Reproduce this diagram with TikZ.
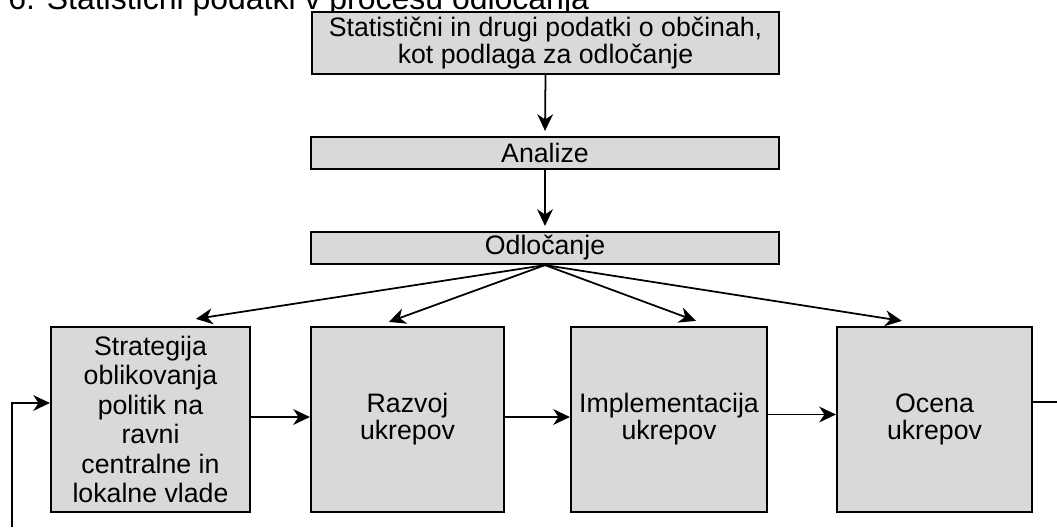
\documentclass[tikz,border=0pt]{standalone}
\usepackage{fontspec}
\setmainfont{Liberation Sans}
\usetikzlibrary{arrows.meta}

\begin{document}
\begin{tikzpicture}[x=0.02cm, y=-0.02cm,
    box/.style={draw, line width=1.25pt, fill=boxgray, inner sep=0pt, align=center,
      font=\fontsize{15.2}{15.3}\selectfont},
    flow/.style={-{Stealth[length=9.5pt,width=9pt,inset=3pt]}, line width=1pt}]
    \definecolor{boxgray}{HTML}{D9D9D9}
    \useasboundingbox (0,0) rectangle (1057,527);
    % title, cut off at the top
    \node[anchor=base west, inner sep=0pt, font=\fontsize{18.2}{20}\selectfont] (title) at (8,10)
      {6. Statistični podatki v procesu odločanja};
    % top column
    \node[box, minimum width=467*0.02cm, minimum height=62*0.02cm] (stat) at (545.5,43)
      {Statistični in drugi podatki o občinah,\\kot podlaga za odločanje};
    \node[box, minimum width=468*0.02cm, minimum height=32*0.02cm] (anal) at (545,153) {Analize};
    \node[box, minimum width=468*0.02cm, minimum height=32*0.02cm] (odl) at (545,248) {Odločanje};
    % row of steps
    \node[box, minimum width=199*0.02cm, minimum height=185*0.02cm,
      font=\fontsize{15.2}{16.8}\selectfont] (strat) at (150.5,419.5)
      {Strategija\\oblikovanja\\politik na\\ravni\\centralne in\\lokalne vlade};
    \node[box, minimum width=193*0.02cm, minimum height=185*0.02cm] (razvoj) at (407.5,419.5)
      {Razvoj\\ukrepov};
    \node[box, minimum width=196*0.02cm, minimum height=185*0.02cm] (impl) at (669,419.5)
      {Implementacija\\ukrepov};
    \node[box, minimum width=195*0.02cm, minimum height=185*0.02cm] (ocena) at (934.5,419.5)
      {Ocena\\ukrepov};
    \draw[flow] (stat.south) -- ([yshift=0.1cm]anal.north);
    \draw[flow] (anal.south) -- ([yshift=0.1cm]odl.north);
    \draw[flow] (odl.south) -- ([shift={(146,-7)}]strat.north west);
    \draw[flow] (odl.south) -- ([shift={(79,-4)}]razvoj.north west);
    \draw[flow] (odl.south) -- ([shift={(126,-5)}]impl.north west);
    \draw[flow] (odl.south) -- ([shift={(66,-5)}]ocena.north west);
    \draw[flow] ([yshift=0.05cm]strat.east) -- ([yshift=0.05cm]razvoj.west);
    \draw[flow] ([yshift=0.05cm]razvoj.east) -- ([yshift=0.05cm]impl.west);
    \draw[flow] ([yshift=0.1cm]impl.east) -- ([yshift=0.1cm]ocena.west);
    % feedback loop, runs off the picture
    \coordinate (outR) at (1057,402);
    \coordinate (outL) at (12,527);
    \draw[line width=1pt] ([yshift=0.35cm]ocena.east) -- (outR);
    \draw[flow] (outL) |- ([yshift=0.33cm]strat.west);
\end{tikzpicture}
\end{document}
